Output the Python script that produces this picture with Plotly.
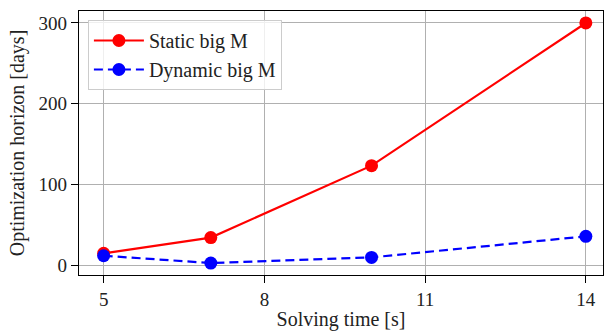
import plotly.graph_objects as go

solve_time = [5, 7, 10, 14]
static_big_m = [15, 34.5, 123.5, 300]
dynamic_big_m = [12, 3, 10, 36]
x_ticks = [5, 8, 11, 14]
y_ticks = [0, 100, 200, 300]

FONT = "Liberation Serif"
TXT = "#222222"

fig = go.Figure()
fig.add_trace(go.Scatter(
    x=solve_time, y=static_big_m, mode="lines+markers", name="Static big M",
    line=dict(color="#ff0000", width=2.2), marker=dict(size=13, color="#ff0000")))
fig.add_trace(go.Scatter(
    x=solve_time, y=dynamic_big_m, mode="lines+markers", name="Dynamic big M",
    line=dict(color="#0000ff", width=2.2, dash="9px,5px"), marker=dict(size=13, color="#0000ff")))

axis_common = dict(
    showline=True, linecolor="black", linewidth=1.2, mirror=True,
    ticks="outside", ticklen=7, tickcolor="black", tickwidth=1,
    showgrid=True, gridcolor="#b0b0b0", gridwidth=1, zeroline=False,
    automargin=False,
    tickfont=dict(family=FONT, size=19, color=TXT),
)
fig.update_layout(
    width=604, height=331,
    margin=dict(l=79, r=1, t=11, b=56),
    paper_bgcolor="white", plot_bgcolor="white",
    font=dict(family=FONT, color=TXT),
    showlegend=True,
    legend=dict(x=0.017, y=0.966, xanchor="left", yanchor="top",
                bgcolor="rgba(255,255,255,0.8)", bordercolor="#cccccc", borderwidth=1,
                font=dict(family=FONT, size=20, color=TXT), tracegroupgap=0,
                itemwidth=50),
    xaxis=dict(range=[4.54, 14.32], tickvals=x_ticks,
               title=dict(text="Solving time [s]", font=dict(family=FONT, size=20, color=TXT), standoff=3),
               **axis_common),
    yaxis=dict(range=[-11.8, 314.8], tickvals=y_ticks,
               title=dict(text="Optimization horizon [days]", font=dict(family=FONT, size=20, color=TXT), standoff=8),
               **axis_common),
)
fig.write_html("out.html", config={"displayModeBar": False},
               post_script="document.body.style.margin='0';document.body.style.overflow='hidden';")
